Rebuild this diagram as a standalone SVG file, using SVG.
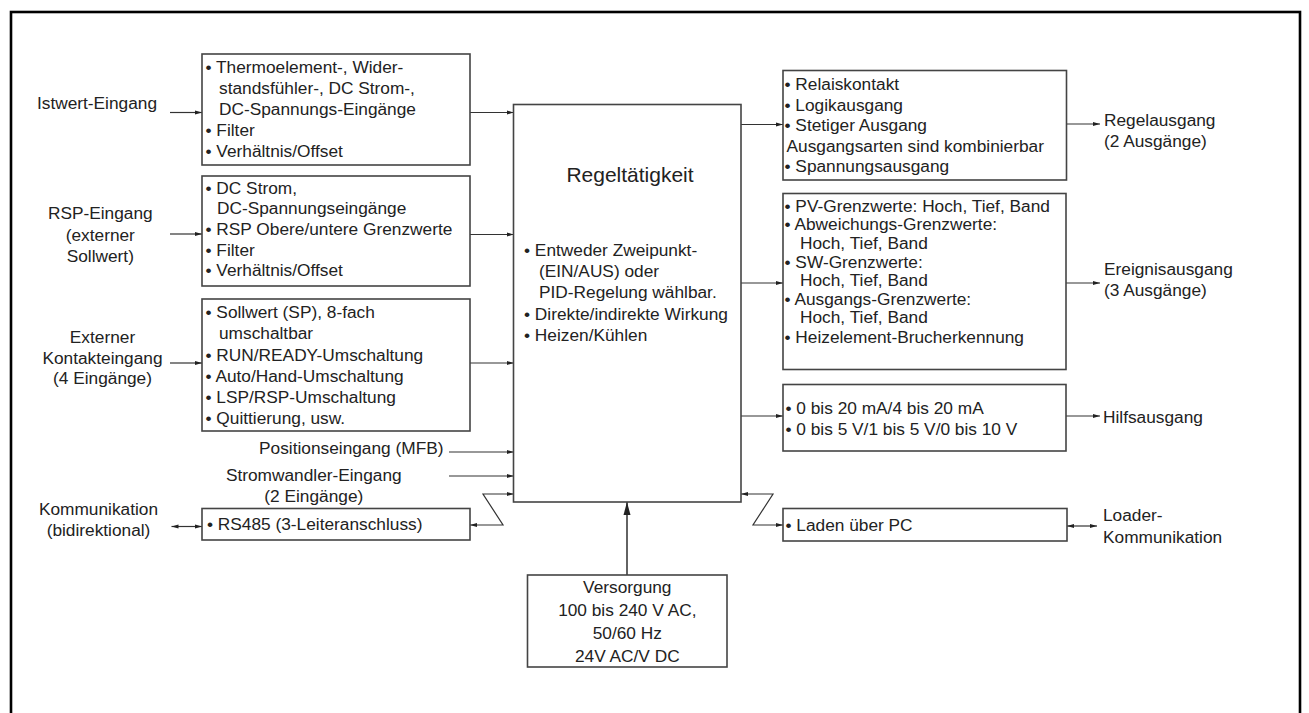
<svg xmlns="http://www.w3.org/2000/svg" width="1309" height="713" viewBox="0 0 1309 713">
<style>
text{font-family:"Liberation Sans",Arial,Helvetica,sans-serif;font-size:17.3px;fill:#222}
.c{text-anchor:middle}
.e{text-anchor:end}
.t{font-size:21px}
.box{fill:#fff;stroke:#444;stroke-width:1.6}
.ln{fill:none;stroke:#333;stroke-width:1.2;marker-end:url(#a)}
.bi{fill:none;stroke:#333;stroke-width:1.2;marker-end:url(#a);marker-start:url(#a)}
</style>
<defs>
<marker id="a" markerWidth="8" markerHeight="6" refX="7" refY="3" orient="auto-start-reverse" markerUnits="userSpaceOnUse"><path d="M0,0.9 L7,3 L0,5.1z" fill="#222"/></marker>
<marker id="b" markerWidth="14" markerHeight="8" refX="13" refY="4" orient="auto" markerUnits="userSpaceOnUse"><path d="M0,0.5 L13,4 L0,7.5z" fill="#222"/></marker>
</defs>
<rect width="1309" height="713" fill="#fff"/>
<rect x="11" y="12" width="1289" height="720" fill="none" stroke="#000" stroke-width="2.6"/>

<g id="connectors">
<path class="ln" d="M170,112.5H202"/>
<path class="ln" d="M470,112.5H513.5"/>
<path class="ln" d="M170,234H202"/>
<path class="ln" d="M470,234.5H513.5"/>
<path class="ln" d="M170,363H202"/>
<path class="ln" d="M470,363H513.5"/>
<path class="ln" d="M449,452H513.5"/>
<path class="ln" d="M449,476H513.5"/>
<path class="bi" d="M470,525H503L483,494H513.5"/>
<path class="bi" d="M171.5,526.5H202"/>
<path class="ln" d="M741,124.5H783"/>
<path class="ln" d="M741,283H783"/>
<path class="ln" d="M741,416H783"/>
<path class="bi" d="M741,494H773L753,525H783"/>
<path class="ln" d="M1066.5,124H1100"/>
<path class="ln" d="M1066,283H1100"/>
<path class="ln" d="M1066,416H1100"/>
<path class="bi" d="M1067,526H1097"/>
<path d="M627,575V502" fill="none" stroke="#222" stroke-width="1.4" marker-end="url(#b)"/>
</g>

<g id="lbl-istwert"><text class="c" x="97" y="108.5">Istwert-Eingang</text></g>
<g id="lbl-rsp"><text class="c" x="100.3" y="219">RSP-Eingang</text><text class="c" x="100.3" y="240.7">(externer</text><text class="c" x="100.3" y="261.7">Sollwert)</text></g>
<g id="lbl-kontakt"><text class="c" x="102.5" y="342.7">Externer</text><text class="c" x="102.5" y="363.5">Kontakteingang</text><text class="c" x="102.5" y="384.2">(4 Eingänge)</text></g>
<g id="lbl-mfb"><text class="e" x="443.5" y="454">Positionseingang (MFB)</text></g>
<g id="lbl-strom"><text class="c" x="313.8" y="480.5">Stromwandler-Eingang</text><text class="c" x="313.8" y="501.5">(2 Eingänge)</text></g>
<g id="lbl-komm"><text class="c" x="98.5" y="515">Kommunikation</text><text class="c" x="98.5" y="536">(bidirektional)</text></g>

<g id="box-istwert">
<rect class="box" x="202" y="54" width="268" height="111"/>
<text x="205.5" y="72.5">• Thermoelement-, Wider-</text>
<text x="219" y="93.5">standsfühler-, DC Strom-,</text>
<text x="219" y="114.5">DC-Spannungs-Eingänge</text>
<text x="205.5" y="135.5">• Filter</text>
<text x="205.5" y="156.5">• Verhältnis/Offset</text>
</g>
<g id="box-rsp">
<rect class="box" x="202" y="176" width="268" height="110"/>
<text x="205.5" y="193.5">• DC Strom,</text>
<text x="217" y="214.2">DC-Spannungseingänge</text>
<text x="205.5" y="235">• RSP Obere/untere Grenzwerte</text>
<text x="205.5" y="255.7">• Filter</text>
<text x="205.5" y="276.4">• Verhältnis/Offset</text>
</g>
<g id="box-kontakt">
<rect class="box" x="202" y="299" width="268" height="132"/>
<text x="205.5" y="318">• Sollwert (SP), 8-fach</text>
<text x="219" y="339">umschaltbar</text>
<text x="205.5" y="360.5">• RUN/READY-Umschaltung</text>
<text x="205.5" y="381.7">• Auto/Hand-Umschaltung</text>
<text x="205.5" y="402.7">• LSP/RSP-Umschaltung</text>
<text x="205.5" y="423.5">• Quittierung, usw.</text>
</g>
<g id="box-rs485">
<rect class="box" x="202" y="508.5" width="268" height="31.5"/>
<text x="207" y="530">• RS485 (3-Leiteranschluss)</text>
</g>

<g id="box-main">
<rect class="box" x="513.5" y="104.5" width="227.5" height="397.5"/>
<text class="c t" x="630" y="182">Regeltätigkeit</text>
<text x="524" y="255.5">• Entweder Zweipunkt-</text>
<text x="539" y="277">(EIN/AUS) oder</text>
<text x="539" y="298">PID-Regelung wählbar.</text>
<text x="524" y="319.5">• Direkte/indirekte Wirkung</text>
<text x="524" y="341">• Heizen/Kühlen</text>
</g>

<g id="box-versorgung">
<rect class="box" x="527.5" y="575" width="199.5" height="92"/>
<text class="c" x="627.3" y="592.5">Versorgung</text>
<text class="c" x="627.3" y="615.5">100 bis 240 V AC,</text>
<text class="c" x="627.3" y="638.5">50/60 Hz</text>
<text class="c" x="627.3" y="661.5">24V AC/V DC</text>
</g>

<g id="box-regel">
<rect class="box" x="783" y="70.5" width="283.5" height="109.5"/>
<text x="784.5" y="90">• Relaiskontakt</text>
<text x="784.5" y="110.5">• Logikausgang</text>
<text x="784.5" y="131">• Stetiger Ausgang</text>
<text x="786.5" y="151.5">Ausgangsarten sind kombinierbar</text>
<text x="784.5" y="172">• Spannungsausgang</text>
</g>
<g id="box-ereignis">
<rect class="box" x="783" y="193.5" width="283" height="176"/>
<text x="784.5" y="211.7">• PV-Grenzwerte: Hoch, Tief, Band</text>
<text x="784.5" y="230.3">• Abweichungs-Grenzwerte:</text>
<text x="800" y="249">Hoch, Tief, Band</text>
<text x="784.5" y="267.6">• SW-Grenzwerte:</text>
<text x="800" y="286.2">Hoch, Tief, Band</text>
<text x="784.5" y="304.8">• Ausgangs-Grenzwerte:</text>
<text x="800" y="323.4">Hoch, Tief, Band</text>
<text x="784.5" y="342.5">• Heizelement-Brucherkennung</text>
</g>
<g id="box-hilf">
<rect class="box" x="783" y="384.5" width="283" height="66.5"/>
<text x="785.5" y="413.5">• 0 bis 20 mA/4 bis 20 mA</text>
<text x="785.5" y="435">• 0 bis 5 V/1 bis 5 V/0 bis 10 V</text>
</g>
<g id="box-laden">
<rect class="box" x="783" y="508.5" width="284" height="32.5"/>
<text x="785.5" y="531">• Laden über PC</text>
</g>

<g id="lbl-regel"><text x="1104" y="126">Regelausgang</text><text x="1104" y="146.5">(2 Ausgänge)</text></g>
<g id="lbl-ereignis"><text x="1104" y="275">Ereignisausgang</text><text x="1104" y="296">(3 Ausgänge)</text></g>
<g id="lbl-hilf"><text x="1103" y="422.5">Hilfsausgang</text></g>
<g id="lbl-loader"><text x="1103" y="520.5">Loader-</text><text x="1103" y="542.5">Kommunikation</text></g>
</svg>
